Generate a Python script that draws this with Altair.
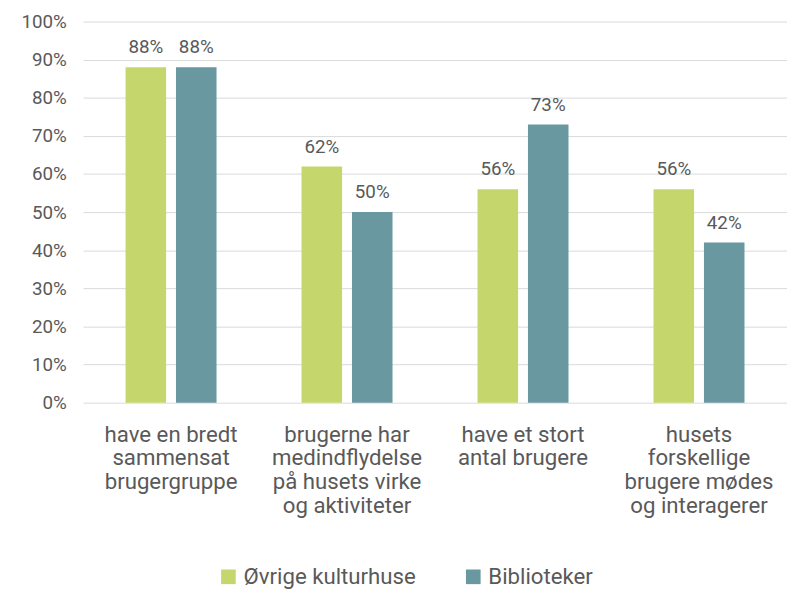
import altair as alt
import pandas as pd

categories = [
    "have en bredt|sammensat|brugergruppe",
    "brugerne har|medindflydelse|på husets virke|og aktiviteter",
    "have et stort|antal brugere",
    "husets|forskellige|brugere mødes|og interagerer",
]
series = ["Øvrige kulturhuse", "Biblioteker"]
ovrige = [0.88, 0.62, 0.56, 0.56]
biblioteker = [0.88, 0.50, 0.73, 0.42]
colors = ["#C5D76C", "#6A98A0"]

rows = []
for i, c in enumerate(categories):
    rows.append({"cat": c, "serie": series[0], "v": ovrige[i], "o": 0})
    rows.append({"cat": c, "serie": series[1], "v": biblioteker[i], "o": 1})
df = pd.DataFrame(rows)

FONT = "Roboto"
GRAY = "#595959"

x = alt.X("cat:N", sort=categories, title=None,
          scale=alt.Scale(paddingInner=0.483, paddingOuter=0.2415),
          axis=alt.Axis(labelAngle=0, labelExpr="split(datum.label, '|')",
                        labelFont=FONT, labelFontSize=22.5, labelColor=GRAY,
                        labelLineHeight=24, labelPadding=21, ticks=False,
                        domain=False, labelBaseline="top", labelLimit=300))
xo = alt.XOffset("serie:N", sort=series,
                 scale=alt.Scale(paddingInner=0.196, paddingOuter=0))
y = alt.Y("v:Q", title=None,
          scale=alt.Scale(domain=[0, 1]),
          axis=alt.Axis(format=".0%", values=[i / 10 for i in range(11)],
                        labelFont=FONT, labelFontSize=19, labelColor=GRAY,
                        labelPadding=17, ticks=False, domain=False,
                        gridColor="#D9D9D9", gridWidth=1))

base = alt.Chart(df)
bars = base.mark_bar().encode(
    x=x, xOffset=xo, y=y,
    color=alt.Color("serie:N", sort=series,
                    scale=alt.Scale(domain=series, range=colors),
                    legend=alt.Legend(title=None, orient="none", direction="horizontal",
                                      legendX=136, legendY=551,
                                      symbolType="square", symbolSize=220,
                                      symbolStrokeWidth=0,
                                      labelFont=FONT, labelFontSize=22.5,
                                      labelColor=GRAY, columnPadding=46,
                                      labelOffset=4, labelLimit=400)),
)
labels = base.mark_text(baseline="bottom", dy=-10, font=FONT, fontSize=19,
                        color=GRAY).encode(
    x=x, xOffset=xo, y=y,
    text=alt.Text("v:Q", format=".0%"),
)

chart = (bars + labels).properties(
    width=713, height=386,
    autosize=alt.AutoSizeParams(type="none"),
    padding={"left": 76, "top": 10, "right": 0, "bottom": 187},
).configure_view(stroke=None)

chart.save("out.html", embed_options={"renderer": "svg", "actions": False})
